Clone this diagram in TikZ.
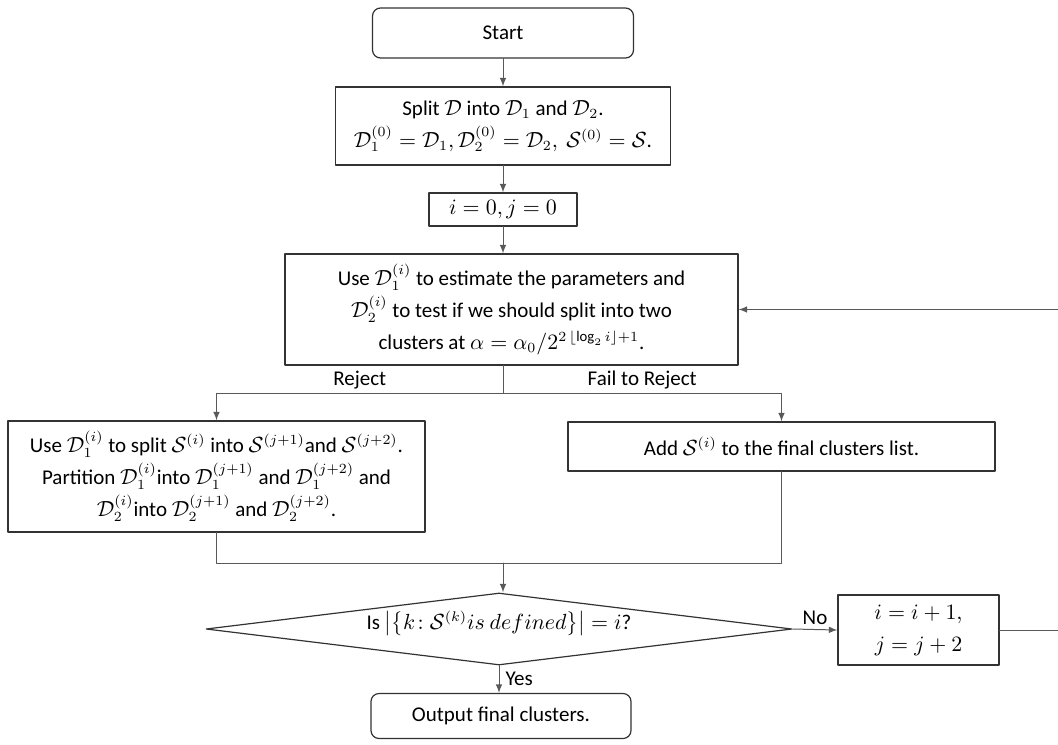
\documentclass[tikz,border=0pt]{standalone}
\usepackage{fontspec}
\setmainfont{Carlito}
\usetikzlibrary{arrows}
\usetikzlibrary{shapes.geometric}

\begin{document}
\begin{tikzpicture}[line cap=round,line join=round,>=latex,x=0.5pt,y=-0.5pt,
		font=\fontsize{10.5}{16}\selectfont,
		procbox/.style={draw=black!80,line width=0.6pt,rectangle,inner sep=0pt,align=center},
		term/.style={procbox,rounded corners=4pt},
		decision/.style={draw=black!80,line width=0.6pt,diamond,inner sep=0pt,minimum width=293pt,minimum height=36pt},
		conn/.style={draw=black!65,line width=0.5pt}]
		\clip(0,0) rectangle (1058,744);
		\node[term,minimum width=130.5pt,minimum height=25pt] (start) at (503,33) {Start};
		\node[procbox,minimum width=167.5pt,minimum height=39pt] (split) at (503,126) {Split $\mathcal{D}$ into $\mathcal{D}_1$ and $\mathcal{D}_2$.\\ $\mathcal{D}_1^{(0)}=\mathcal{D}_1,\mathcal{D}_2^{(0)}=\mathcal{D}_2,\ \mathcal{S}^{(0)}=\mathcal{S}$.};
		\node[procbox,minimum width=74pt,minimum height=16.5pt] (init) at (503,209.5) {$i=0,j=0$};
		\node[procbox,minimum width=226.5pt,minimum height=55.5pt] (test) at (511.5,309.5) {Use $\mathcal{D}_1^{(i)}$ to estimate the parameters and\\ $\mathcal{D}_2^{(i)}$ to test if we should split into two\\ clusters at $\alpha=\alpha_0/2^{2\,\lfloor\log_2 i\rfloor+1}$.};
		\node[procbox,minimum width=208.5pt,minimum height=55.5pt] (part) at (216.5,476.5) {Use $\mathcal{D}_1^{(i)}$ to split $\mathcal{S}^{(i)}$ into $\mathcal{S}^{(j+1)}$and $\mathcal{S}^{(j+2)}$.\\ Partition $\mathcal{D}_1^{(i)}$into $\mathcal{D}_1^{(j+1)}$ and $\mathcal{D}_1^{(j+2)}$ and\\ $\mathcal{D}_2^{(i)}$into $\mathcal{D}_2^{(j+1)}$ and $\mathcal{D}_2^{(j+2)}$.};
		\node[procbox,minimum width=213.5pt,minimum height=24.5pt] (add) at (781.5,446.5) {Add $\mathcal{S}^{(i)}$ to the final clusters list.};
		\node[decision] (check) at (499,629) {\smash{\makebox[0pt]{Is $\left|\left\{k\!:\mathcal{S}^{(k)}is\ defined\right\}\right|=i$?}}};
		\node[procbox,minimum width=80.5pt,minimum height=35pt] (update) at (918.5,630) {$i=i+1,$\\ $j=j+2$};
		\node[term,minimum width=130pt,minimum height=22.5pt] (output) at (501,716) {Output final clusters.};
		\coordinate (fork) at (503,393);
		\coordinate (merge) at (503,563);
		\coordinate (back) at (1075,0);
		\draw[conn,->] (start) -- (split);
		\draw[conn,->] (split) -- (init);
		\draw[conn,->] (init) -- (init |- test.north);
		\draw[conn] (test.south -| fork) -- (fork);
		\draw[conn,->] (fork) -| (part.north) node[pos=0.25,above,inner sep=1.5pt,text=black] {Reject};
		\draw[conn,->] (fork) -| (add.north) node[pos=0.25,above,inner sep=1.5pt,text=black] {Fail to Reject};
		\draw[conn] (part.south) |- (merge);
		\draw[conn] (add.south) |- (merge);
		\draw[conn,->] (merge) -- (merge |- check.north);
		\draw[conn,->] (check.south) -- (check.south |- output.north) node[midway,right,inner sep=3pt,text=black] {Yes};
		\draw[conn,->] (check.east) -- (update.west) node[midway,above,inner sep=2pt,text=black] {No};
		\draw[conn,->] (update.east) -- (update.east -| back) -- (back |- test.east) -- (test.east);
\end{tikzpicture}
\end{document}
